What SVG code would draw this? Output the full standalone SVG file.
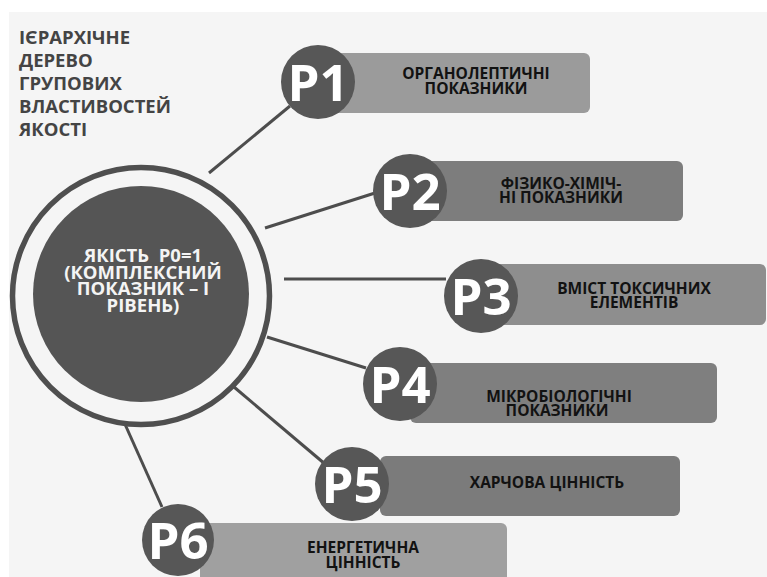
<svg xmlns="http://www.w3.org/2000/svg" width="767" height="577" viewBox="0 0 767 577">
<style>
.t{font-family:"Open Sans","DejaVu Sans",sans-serif;font-weight:700}
.title{font-size:18.5px;fill:#444444}
.lbl{font-size:15.5px;fill:#121212;text-anchor:middle}
.pc{fill:#575757}
.pt{font-size:51px;fill:#ffffff;text-anchor:middle}
.ct{font-size:18.5px;fill:#f4f4f4;text-anchor:middle;white-space:pre}
.ln{stroke:#4d4d4d;stroke-width:3;fill:none}
</style>
<rect x="0" y="0" width="767" height="577" fill="#ffffff"/>
<rect x="9" y="12" width="758" height="565" fill="#f5f5f5"/>
<g id="title" class="t title">
<text x="19" y="44">ІЄРАРХІЧНЕ</text>
<text x="19" y="67">ДЕРЕВО</text>
<text x="19" y="90">ГРУПОВИХ</text>
<text x="19" y="113">ВЛАСТИВОСТЕЙ</text>
<text x="19" y="136">ЯКОСТІ</text>
</g>
<g id="connectors" class="ln">
<line x1="209" y1="173" x2="290" y2="106"/>
<line x1="265" y1="228" x2="375" y2="193"/>
<line x1="284" y1="279" x2="446" y2="279"/>
<line x1="267" y1="337" x2="366" y2="368"/>
<line x1="234" y1="387" x2="325" y2="464"/>
<line x1="124" y1="422" x2="162" y2="507"/>
</g>
<g id="p0">
<circle cx="141" cy="296" r="128.5" fill="none" stroke="#4f4f4f" stroke-width="5.5"/>
<circle cx="141" cy="294" r="108" fill="#555555"/>
<g class="t ct">
<text x="143" y="262" xml:space="preserve">ЯКІСТЬ  Р0=1</text>
<text x="143" y="278.5">(КОМПЛЕКСНИЙ</text>
<text x="143" y="295">ПОКАЗНИК – І</text>
<text x="143" y="311.5">РІВЕНЬ)</text>
</g>
</g>
<g id="p1">
<rect x="330" y="53" width="260" height="60" rx="6" fill="#9b9b9b"/>
<circle cx="318" cy="82" r="37" class="pc"/>
<text x="318" y="101" class="t pt">P1</text>
<text x="476" y="79" class="t lbl">ОРГАНОЛЕПТИЧНІ</text>
<text x="476" y="93.5" class="t lbl">ПОКАЗНИКИ</text>
</g>
<g id="p2">
<rect x="420" y="161" width="263" height="60" rx="6" fill="#7d7d7d"/>
<circle cx="410" cy="191" r="37" class="pc"/>
<text x="410" y="210" class="t pt">P2</text>
<text x="561" y="189" class="t lbl">ФІЗИКО-ХІМІЧ-</text>
<text x="561" y="203" class="t lbl">НІ ПОКАЗНИКИ</text>
</g>
<g id="p3">
<rect x="490" y="264" width="276" height="61" rx="6" fill="#8e8e8e"/>
<circle cx="481" cy="296" r="37" class="pc"/>
<text x="481" y="315" class="t pt">P3</text>
<text x="634" y="294" class="t lbl">ВМІСТ ТОКСИЧНИХ</text>
<text x="634" y="308" class="t lbl">ЕЛЕМЕНТІВ</text>
</g>
<g id="p4">
<rect x="410" y="363" width="307" height="60" rx="6" fill="#7f7f7f"/>
<circle cx="400" cy="384" r="37" class="pc"/>
<text x="400" y="403" class="t pt">P4</text>
<text x="559" y="401.5" class="t lbl">МІКРОБІОЛОГІЧНІ</text>
<text x="557" y="415.5" class="t lbl">ПОКАЗНИКИ</text>
</g>
<g id="p5">
<rect x="380" y="456" width="300" height="60" rx="6" fill="#7b7b7b"/>
<circle cx="352" cy="484" r="37" class="pc"/>
<text x="352" y="503" class="t pt">P5</text>
<text x="547" y="488" class="t lbl">ХАРЧОВА ЦІННІСТЬ</text>
</g>
<g id="p6">
<rect x="200" y="523" width="307" height="70" rx="6" fill="#a0a0a0"/>
<circle cx="178" cy="540" r="36" class="pc"/>
<text x="178" y="559" class="t pt">P6</text>
<text x="363" y="553" class="t lbl">ЕНЕРГЕТИЧНА</text>
<text x="363" y="567.5" class="t lbl">ЦІННІСТЬ</text>
</g>
</svg>
